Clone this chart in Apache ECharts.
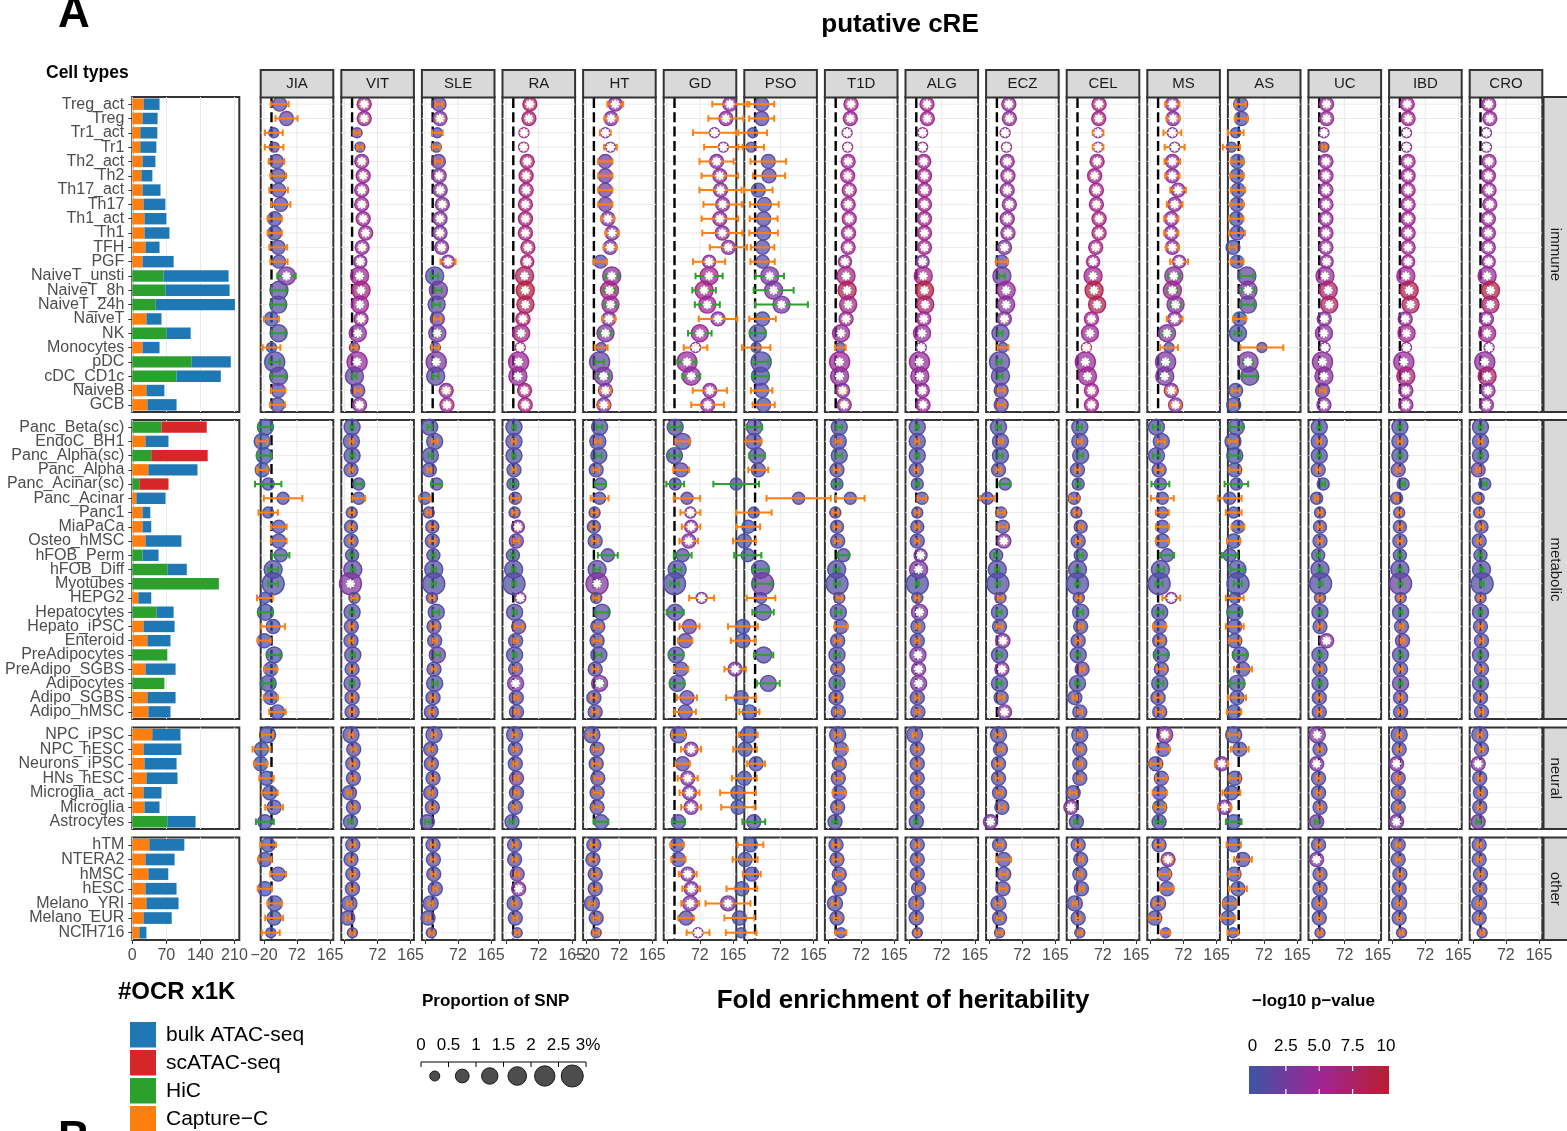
<!DOCTYPE html>
<html><head><meta charset="utf-8">
<script src="https://cdn.jsdelivr.net/npm/echarts@6/dist/echarts.min.js"></script>
<style>html,body{margin:0;padding:0;background:#fff}#c{width:1567px;height:1131px}</style>
</head><body><div id="c"></div>
<script>
// ---------------- DATA ----------------
const cellsImmune = ['Treg_act','Treg','Tr1_act','Tr1','Th2_act','Th2','Th17_act','Th17','Th1_act','Th1','TFH','PGF','NaiveT_unsti','NaiveT_8h','NaiveT_24h','NaiveT','NK','Monocytes','pDC','cDC_CD1c','NaiveB','GCB'];
const cellsMetabolic = ['Panc_Beta(sc)','EndoC_BH1','Panc_Alpha(sc)','Panc_Alpha','Panc_Acinar(sc)','Panc_Acinar','Panc1','MiaPaCa','Osteo_hMSC','hFOB_Perm','hFOB_Diff','Myotubes','HEPG2','Hepatocytes','Hepato_iPSC','Enteroid','PreAdipocytes','PreAdipo_SGBS','Adipocytes','Adipo_SGBS','Adipo_hMSC'];
const cellsNeural = ['NPC_iPSC','NPC_hESC','Neurons_iPSC','HNs_hESC','Microglia_act','Microglia','Astrocytes'];
const cellsOther = ['hTM','NTERA2','hMSC','hESC','Melano_YRI','Melano_EUR','NCIH716'];
const facetNames = ['immune','metabolic','neural','other'];
const diseases = ['JIA','VIT','SLE','RA','HT','GD','PSO','T1D','ALG','ECZ','CEL','MS','AS','UC','IBD','CRO'];

// #OCR x1K (stacked segments)
const ocrHiC = [0,0,0,0,0,0,0,0,0,0,0,0,64,68,47.5,0,70,0,122,91,0,0,
 60,0,39,0,14.5,0,0,0,0,21,72,178,0,50,0,0,72,0,66,0,0,
 0,0,0,0,0,0,72,
 0,0,0,0,0,0,0];
const ocrCaptureC = [23,21,16.5,16.5,21,18.6,21,23,25,25,27,21,0,0,0,29,0,21,0,0,29,31,
 0,27,0,33,0,8.3,21,21,27,0,0,0,12.4,0,23,31,0,27,0,31,33,
 41,23,25,29,23,25,0,
 35,27,33,27,29,23,14.5];
const ocrScATAC = [0,0,0,0,0,0,0,0,0,0,0,0,0,0,0,0,0,0,0,0,0,0,
 93,0,116,0,60,0,0,0,0,0,0,0,0,0,0,0,0,0,0,0,0,
 0,0,0,0,0,0,0,
 0,0,0,0,0,0,0];
const ocrBulk = [33,31,35,33,26.5,22.7,37,45,45,51.4,29,64,134,132,163.5,31,50,35,80.5,91,37,60,
 0,47.4,0,101,0,60,16,18,74,33,40,0,26.6,35,64,47.5,0,62,0,58,45.5,
 58,78,66,64,37,31,58,
 72,60,41,64,66,58,14.5];
// proportion of SNPs (%)
const snpProp = [0.78,0.78,0.25,0.25,0.78,0.78,0.78,0.78,0.78,0.78,0.78,0.62,1.61,1.61,1.38,0.78,1.38,0.25,2.14,1.61,0.78,0.78,
 1.16,1.16,1.16,0.78,0.48,0.48,0.36,0.62,0.78,0.62,1.61,2.74,0.36,1.16,0.78,0.78,1.16,0.78,1.16,0.78,0.78,
 1.16,0.78,0.78,0.78,0.78,0.78,0.78,
 0.78,0.78,0.78,0.78,0.96,0.78,0.25];

// Fold enrichment (fe), half error (se), -log10 p (p) per disease
const JIA_fe = [24,43,7.5,8.4,15,20,21,27,10,10,20,22,43,22,20,1,21,1,10,21,20,18,
 -16,-25,-19.5,-25,-8.3,33.5,-8.3,21.5,21.5,27,5.6,5.6,-17.6,-16,5.6,-19.5,8.4,-1,-8.3,-1,17.7,
 -10,-27,-29,-13,-3.6,8.4,-17.6,
 -8.3,-17.6,19.6,-17.6,10,8.4,-1];
const JIA_se = [25,31,25,26,22,22,26,27,20,20,25,24,26,20,20,21,19,25,15,20,20,21,
 19,15,20,15,37,54,27,22,22,24,14,14,22,20,33,18,18,18,15,20,23,
 15,25,18,20,22,25,25,
 22,18,22,20,20,25,25];
const JIA_p = [1.5,2,1,1,1.2,1.2,1.2,1.5,1,1,1.2,1.2,3,1.5,1.2,0.5,1.2,0.5,1,1.5,1.2,1.2,
 0.3,0.2,0.3,0.2,0.5,1,0.5,1,1,1,0.8,0.8,0.3,0.3,0.6,0.3,0.7,0.5,0.5,0.5,1,
 0.5,0.2,0.2,0.4,0.5,0.8,0.3,
 0.5,0.3,1,0.3,0.8,0.7,0.5];

const VIT_fe = [35,35,15,23,28,32,28,28,32,39,29,24,22,26,23,26,17,7.5,15,7.5,17,22,
 1,-1,1,-2,19.6,19.6,0,-2,-2,1,3,-3.6,7.5,1,-1,-2,3,1,1,1,1,
 -2,5.6,3,4.7,-6.4,4.7,-3.6,
 3,-2,3,2,-6.4,-11,2];
const VIT_se = [10,10,8,8,8,8,8,8,8,8,8,8,8,8,8,8,8,8,6,6,8,8,
 5,5,5,5,10,18,6,6,6,6,5,5,8,6,6,6,6,6,6,6,6,
 6,6,6,6,6,6,6,
 6,6,6,6,6,6,6];
const VIT_p = [4.5,4.5,1.5,1.5,4,4.5,4.5,4.5,4.5,4.5,4,3.5,5,6,5,4,4,1.5,4.5,2,2,3.5,
 1,1,1,1,1,1,0.8,0.8,1,1,1.5,3.5,1,1,1,1,1.2,1,1.2,1,1,
 1,1,1,1,1,1,1,
 1,1,1,1,1,1,1];

const SLE_fe = [18.7,21.5,14,11,17,19,22,28,21.5,21.5,26,44,6.6,17,12,14,14,8.4,11,9.4,39,41,
 -7.4,6.6,-5.5,-8.3,12,-21,-10,0,0,3,4,4,-1,11,4.7,6.6,14,4.7,6.6,2,-2.7,
 4.7,-4.6,-2.7,2,-4.6,0,-14,
 2,3,4,8.4,-4.6,-12,-2.7];
const SLE_se = [10,10,15,10,10,8,8,8,8,8,8,21,10,10,10,10,10,10,8,8,10,10,
 6,8,6,6,15,15,6,8,8,6,6,6,6,8,8,6,8,6,8,6,6,
 6,6,6,6,6,6,6,
 6,6,6,6,6,6,6];
const SLE_p = [2,3,1.5,1.2,2.2,3,3,3,3,3,3,3.5,1,2.5,1.5,2,2.8,1.2,3,1.5,4,4.5,
 1,1,1,1,1,1,1,1,1,1,1,1,1,1,1,1,2,1,1,1,1,
 1,1,1,1,1,1,1.5,
 1,1,1,1,1,1,1];

const RA_fe = [47.5,44.7,31,30,40,37,37,35,35,35,42,40,32.6,34.5,35,28,23,20.5,16,14,32.6,34.5,
 3,3,3,3,0,6.6,4.7,14,9.4,0,2,3,20.5,4.7,16,7.5,4.7,7.5,7.5,9.4,10,
 4.7,6.6,6.6,10,10,6.6,-2.7,
 4.7,4.7,12,16,4.7,6.6,12];
const RA_se = [8,8,8,8,8,8,8,8,8,8,8,8,8,8,8,8,8,8,8,8,8,8,
 5,5,5,5,8,12,6,8,8,6,5,5,8,6,12,6,5,6,6,6,6,
 6,6,6,6,6,6,6,
 6,6,6,6,6,6,6];
const RA_p = [7,6.5,5,4.5,6.5,6.5,6,6,6,6,6.5,6,7.5,9.5,8,6.5,6,4.5,5,4.5,6,6,
 1,1,1,1,1,1,1,3,2,1,1,1,3,1,1.5,1,1,1.2,3,1.2,1.2,
 1,1,1,2,1,1,1,
 1,1,2,3.5,1,1,1];

const HT_fe = [61,49,33,47.5,33,33,33,33,40,52,46.6,19.6,51,44.7,47.5,43,33.5,21.5,17,28,33.5,29,
 17,12,15,7.5,19.6,17,3,1,4.7,40,10,10,7.5,24,12,10,15,4.7,17,1,4.7,
 -4.6,10,7.5,12,10,10,21.5,
 1,-1.8,4.7,4.7,-4.6,7.5,7.5];
const HT_se = [22,18,15,18,20,20,20,20,18,18,18,18,18,16,16,18,16,18,12,15,15,15,
 8,8,8,8,15,25,8,8,8,28,8,8,8,18,10,10,8,8,10,8,8,
 10,10,10,10,10,10,20,
 8,8,8,8,8,8,8];
const HT_p = [4,3.5,3,3,2.5,2.5,2.5,2.5,3,3.5,3,1.5,4,6,5,3.5,3.5,1.5,2,3,3,3,
 1,1,1,1,1,1,1,1,1,1,1.5,3.5,1,1.2,1,1,1.2,1,3.2,1,1,
 1,1,1,1,1,1,1,
 1,1,1,1,1,1,1];

const GD_fe = [156,145,113,138,119,128,130,136,128,135,152,98,98,84,93,123,72,60,36,48,100,94,
 3,24,1,19.6,3,36,45.6,47.5,41,24,8.4,1,77,3,43,31,5.6,19.6,8.4,36,31,
 12,47.5,24,38,43,47.5,12,
 8.4,12,38,48,45,33.5,67];
const GD_se = [49,49,60,54,48,51,59,54,51,56,52,45,38,33,35,54,33,33,25,25,48,46,
 15,20,15,22,25,37,28,26,26,25,12,12,35,24,28,20,20,20,20,28,30,
 18,28,20,28,28,28,18,
 18,20,25,25,25,22,32];
const GD_p = [4,4,3,3,4,4,4,4,4,4,4,4,5.5,6,5,4,5,3,4.5,4,4,4,
 1,1.2,1,1.2,1,2,3,3.5,3.5,1.5,1,1,3,1,2,1.5,1,1.5,1,1.5,1.5,
 1,3,1.5,3,3,3,1,
 1,1,3,3,3,1.5,3];

const PSO_fe = [19.6,19.6,-5.5,-10,38,40,10,27,25,25,22,22,42,53,75,22,8.4,4,18,16,19.6,25,
 -1,-3,6.6,10,-52,123,-2.7,-18,-29,-19.5,16,22.4,17.7,23.3,-33,-33,25,-55,38,-38,-15,
 -18,-27,3.8,-29,-47,-47,-2.7,
 -12,-27,-8.3,-36,-75,-43,-38];
const PSO_se = [35,35,40,36,50,45,40,40,39,40,33,34,40,56,74,37,22,40,20,23,30,31,
 22,22,22,28,64,90,50,33,32,38,22,25,40,30,42,34,27,30,32,42,28,
 26,33,25,35,50,47,32,
 36,35,25,43,63,42,43];
const PSO_p = [1.5,1.5,0.8,0.8,1.5,1.5,1,1.2,1.2,1.2,1.2,1.2,3,3,3,1.2,0.8,0.5,1,1,1,1,
 1,1,1,1,0.5,1.5,0.5,0.5,0.5,0.5,1,2.5,1,1,0.5,0.5,1,3,1.2,0.5,0.5,
 0.5,0.5,0.8,0.5,0.3,0.3,0.8,
 0.5,0.5,0.8,0.4,3,0.4,0.4];

const T1D_fe = [44,42,33,34.5,36,34.5,39,36,39,37,36,27,30,33,36,30,16,14,12,12,20.5,25,
 11,8.4,11,4.7,4.7,42,0,4.7,6.6,23,3.8,4.7,11,8.4,16,6.6,4.7,6.6,4.7,2,8.4,
 6.6,16,11,8.4,11,6.6,-1,
 2,4.7,11,11,-1,4.7,16];
const T1D_se = [8,8,8,8,8,8,8,8,8,8,8,8,8,8,8,8,8,15,8,8,10,10,
 8,8,8,8,8,40,8,8,8,15,8,8,8,8,18,8,8,8,8,8,8,
 8,18,10,10,18,8,8,
 8,10,10,10,8,8,15];
const T1D_p = [5,5,4,4,5,5,5,5,5,5,5,4,6,8,6,4.5,4.5,1.5,5,4,3.5,3.5,
 1,1,1,1,1,1,1,1,1,1,1,1,1,1,1,1,1,1,1,1,1,
 1,1,1,1,1,1,1,
 1,1,1,1,1,1,1];

const ALG_fe = [31,32,18.7,18.7,22,24,24,24,24,24,24,18.7,20.5,24,26,22,17,15,10,11,18,20,
 3.8,3.8,3.8,1,3.8,17,3.8,3.8,3.8,13,7.5,3.8,3.8,10,5.6,3.8,5.6,7.5,7.5,3.8,5.6,
 -3.6,3.8,3.8,3.8,3.8,3.8,1,
 3.8,3.8,3.8,7.5,1,1,3.8];
const ALG_se = [6,6,6,6,6,6,6,6,6,6,6,6,6,6,6,6,6,6,6,6,6,6,
 5,5,5,5,5,12,5,5,5,8,6,5,5,6,5,5,5,5,5,5,5,
 5,5,5,5,5,5,5,
 5,5,5,5,5,5,5];
const ALG_p = [5.5,5.5,4,4,5.5,5.5,5.5,5.5,5.5,5.5,5.5,3,5.5,9,7,5,4.5,3,4.5,4.5,4.5,4.5,
 1,1,1,1,1,1,1,1,1,3,3,1,1,3,1,1,3,3,3,1,1.2,
 1,1,1,1,1,1,1,
 1,1,1,1,1,1,1];

const ECZ_fe = [34.5,36,24,28,30,32,30,36,30,32,22.4,15,15,27,27,22,11,18,8.4,11,13,13,
 5.6,11,11,5.6,24,-26,13,18,20.5,-1,2,3.8,11,8.4,8.4,18,8.4,15,8.4,13,22.4,
 5.6,11,5.6,5.6,8.4,15,-17,
 8.4,20.5,20.5,18,5.6,8.4,8.4];
const ECZ_se = [8,8,8,8,8,8,8,8,8,8,8,16,8,8,8,8,6,15,6,6,10,10,
 6,6,6,6,15,20,10,12,8,6,6,6,8,6,8,8,6,8,6,8,8,
 8,8,8,8,8,8,8,
 8,20,10,10,8,8,8];
const ECZ_p = [4,4,3,3,4,4,4,4,4,4,3,1.5,2.5,4.5,4,3,1.5,1.5,1.5,1.5,1.5,1.5,
 1,1,1,1,1,1,1,1,3,1,1,1,1,1,1,3,1,3,1,1,3,
 1,1,1,1,1,1,3,
 1,1,1,1,1,1,1];

const CEL_fe = [61.5,60.5,58.7,58.7,56,49,54,54,61.5,61.5,52,44.7,44.7,47.5,56,40,36,26,23,29,40,40,
 7.5,7.5,10,1,3,-8.3,-2,10,3,10,1,1,4.7,10,10,3,3,14,1,-6.4,7.5,
 7.5,7.5,7.5,7.5,-11,-17.6,-2,
 3,10,7.5,12,-6.4,3,7.5];
const CEL_se = [8,8,15,15,8,8,8,8,8,8,8,8,8,8,8,8,8,10,8,8,8,8,
 6,6,6,6,6,12,6,6,6,6,6,6,6,6,6,6,6,6,6,6,6,
 6,6,6,6,10,8,6,
 6,6,6,6,6,6,6];
const CEL_p = [6,6,4,4,5.5,5,5.5,5.5,6,6,5.5,5,5.5,9,8,5,5,3.5,4.5,5,5,5,
 1,1,1,1,1,1,1,1,1,1,1,1,1,1,1,1,1,2,1,1,1,
 1,1,1,1,1,3,1,
 1,1,1,1,1,1,1];

const MS_fe = [41,43,41,47.5,41,41,57,47.5,38,38,41,60,45,41,50,47.5,26,31.7,22,19.6,38,50,
 -3.6,10,-3.6,3.8,7.5,13,13,13,13,26,7.5,3.8,38,5.6,5.6,5.6,10,10,5.6,1,5.6,
 19.6,15,-5.5,10,5.6,5.6,3.8,
 3.8,29,19.6,26,1,-8.3,22.4];
const MS_se = [20,18,25,28,22,20,22,22,20,20,18,25,16,14,14,22,12,25,10,10,14,14,
 10,10,10,10,25,32,18,18,18,20,10,10,25,10,18,10,18,12,10,10,10,
 10,18,15,15,20,15,10,
 10,12,15,18,12,15,12];
const MS_p = [4,4,3,3,4,4,4,4,4,4,4,3.5,4,5,4,3.5,3.5,1.5,3,3,3.5,3.5,
 1,1,1,1,1,1,1,1,1,1,1,1,3,1,1,1,1,1,1,1,1,
 3,1,1,1,1,1,1,
 1,3,1,1,1,1,1];

const AS_fe = [6.6,8.4,-7.4,-19.5,-2.7,-3.6,-0.9,-3.6,-5.5,-3.6,-15,-3.6,24,27,27,3.8,-1,66,27,32,-7.4,-13,
 -5.5,-15,-10,-10,-5.5,-24,-13,-1,-13,-24,-3.6,-1,-10,-10,-10,-10,5.6,13,-3.6,-3.6,-12,
 -13,3.8,-47,-10,-19.5,-38,-13,
 -13,13,-12,-1,-24,-29,-15];
const AS_se = [15,18,22,24,18,18,20,18,20,22,10,18,18,18,18,18,10,60,14,20,10,10,
 18,13,15,15,33,33,22,18,18,22,18,12,25,18,25,15,18,25,20,25,20,
 15,25,18,15,25,18,22,
 20,25,15,25,18,20,15];
const AS_p = [1,1,0.5,0.3,0.7,0.7,0.8,0.7,0.6,0.7,0.4,0.7,2,3,2,0.9,0.8,1.5,3,2,0.6,0.4,
 0.8,0.5,0.6,0.6,0.8,0.4,0.5,0.8,0.5,0.4,0.8,0.8,0.6,0.6,0.6,0.6,1,1.2,0.8,0.8,0.5,
 0.5,0.8,3,0.5,0.4,3,0.5,
 0.5,1,0.5,0.7,0.4,0.4,0.5];

const UC_fe = [21.5,21.5,14,14,19.6,19.6,19.6,19.6,19.6,19.6,19.6,21.5,17,26,29,15,14,17,10,14,10,14,
 1,1,1,-2,12,-6.4,3,3,3,-2,3,4.7,3,3,3,21.5,3,3,3,1,1,
 -4.6,3,-6.4,-1,-1,3,-6.4,
 -1,-6.4,3,3,1,1,3];
const UC_se = [6,6,6,6,6,6,6,6,6,6,6,6,6,6,6,6,6,6,6,6,8,6,
 5,5,5,5,5,5,5,5,5,5,5,5,5,5,5,5,5,5,5,5,5,
 5,5,5,5,5,5,5,
 5,5,5,5,5,5,5];
const UC_p = [4.5,4.5,3,2.5,4.5,4.5,4.5,4.5,4.5,4.5,4.5,4,4.5,7,7.5,3.5,4,3,4,4,2.5,3.5,
 1,1,1,1,1,1,1,1,1,1,1,1,1,1,1,3.5,1,1,1,1,1,
 3,1,3,1,1,1,2.5,
 1,3,1,1,1,1,1];

const IBD_fe = [21.5,24,19.6,19.6,24,24,24,24,24,24,24,24,17.7,27,31,16,19.6,19.6,12,17.7,17.7,17.7,
 1,1,1,-3.6,10,-8.3,-1,1,1,1,1,3,3,3,5.6,8.4,3,3,3,3,3,
 -1,-1,-8.3,-3.6,-3.6,-3.6,-8.3,
 -3.6,-3.6,1,-1,-1,-1,5.6];
const IBD_se = [6,6,6,6,6,6,6,6,6,6,6,6,6,6,6,6,6,6,6,6,6,6,
 5,5,5,5,5,5,5,5,5,5,5,5,5,5,5,5,5,5,5,5,5,
 5,5,5,5,5,5,5,
 5,5,5,5,5,5,5];
const IBD_p = [5,5.5,3.5,3.5,5,5,5,5,5,5,5.5,5,5,8.5,7.5,4,5.5,3.5,4.5,6.5,4.5,4.5,
 1,1,1,1.5,1,1,1,1,1,1,1,2,1,1,1,2,1,1,2,1,1,
 1,1,3,2,1,1,3,
 1,1,1,1,1,1,1];

const CRO_fe = [24,27,17.7,17.7,25,23,25,27,23,23,23,24,19.6,29,29,17.7,19.6,25,13,19.6,22,17.7,
 1,1,1,-5.5,13,-5.5,-2.7,3.8,-2.7,1,3.8,5.6,1,1,1,3.8,1,3.8,1,1,3.8,
 -1,3.8,-5.5,-1,1,-1,-5.5,
 -2.7,-2.7,1,-1,-2.7,-2.7,5.6];
const CRO_se = [6,6,6,6,6,6,6,6,6,6,6,6,6,6,6,6,6,6,6,6,6,6,
 5,5,5,5,5,5,5,5,5,5,5,5,5,5,5,5,5,5,5,5,5,
 5,5,5,5,5,5,5,
 5,5,5,5,5,5,5];
const CRO_p = [4.5,4.5,3,3,4.5,4.5,4.5,4.5,4.5,4.5,4.5,4.5,4.5,9,7,4,5.5,3,4,7,4,4,
 1,1,1,2,1,1,1,1,1,1,1,1,1,1,1,1,1,1,1,1,1,
 1,1,3,1,1,1,2.5,
 1,1,1,1,1,1,1];

const xTicks = [-20, 72, 165];
const ocrTicks = [0, 70, 140, 210];
const snpLegendLabels = ['0','0.5','1','1.5','2','2.5','3%'];
const snpLegendBins = [0.25, 0.75, 1.25, 1.75, 2.25, 2.75];
const pLegendTicks = [0, 2.5, 5, 7.5, 10];
const assayNames = ['bulk ATAC-seq','scATAC-seq','HiC','Capture\u2212C'];

// ---------------- STYLE / LAYOUT ----------------
const FONT = 'Liberation Sans, Arial, Helvetica, sans-serif';
const COL = {bulk:'#1f77b4', sc:'#d62728', hic:'#2ca02c', cap:'#ff7f0e'};
const SIG = 2.8, REF = 1;
const feList = [JIA_fe,VIT_fe,SLE_fe,RA_fe,HT_fe,GD_fe,PSO_fe,T1D_fe,ALG_fe,ECZ_fe,CEL_fe,MS_fe,AS_fe,UC_fe,IBD_fe,CRO_fe];
const seList = [JIA_se,VIT_se,SLE_se,RA_se,HT_se,GD_se,PSO_se,T1D_se,ALG_se,ECZ_se,CEL_se,MS_se,AS_se,UC_se,IBD_se,CRO_se];
const pList  = [JIA_p,VIT_p,SLE_p,RA_p,HT_p,GD_p,PSO_p,T1D_p,ALG_p,ECZ_p,CEL_p,MS_p,AS_p,UC_p,IBD_p,CRO_p];
const facetCells = [cellsImmune, cellsMetabolic, cellsNeural, cellsOther];
const facetBox = [[97,315],[420,299],[727.5,101.5],[837.5,102.5]];
const PX0 = 260.7, PITCH = 80.6, PW = 72.6;
const XMIN = -29.25, XMAX = 174.25;

const pStops = [[0,[62,84,165]],[5,[158,38,150]],[10,[185,30,48]]];
function pRgb(p){
  p = Math.max(0, Math.min(10, p));
  const a = p <= 5 ? pStops[0] : pStops[1], b = p <= 5 ? pStops[1] : pStops[2];
  const t = (p - a[0]) / (b[0] - a[0]);
  return a[1].map((v,i)=>Math.round(v + (b[1][i]-v)*t)).join(',');
}
const rad = prop => 2.4 + 5.2*Math.sqrt(prop);

function makeBg(n){
  return function(params, api){
    const cs = params.coordSys, ch = [];
    for (let k=0;k<n;k++){
      const y = api.coord([0,k])[1];
      ch.push({type:'line', shape:{x1:cs.x, y1:y, x2:cs.x+cs.width, y2:y}, style:{stroke:'#ebebeb', lineWidth:1}});
    }
    xTicks.forEach(v=>{
      const x = api.coord([v,0])[0];
      ch.push({type:'line', shape:{x1:x, y1:cs.y, x2:x, y2:cs.y+cs.height}, style:{stroke:'#ebebeb', lineWidth:1}});
    });
    const x0 = api.coord([REF,0])[0];
    ch.push({type:'line', shape:{x1:x0, y1:cs.y+1, x2:x0, y2:cs.y+cs.height-1}, style:{stroke:'#000', lineWidth:2.4, lineDash:[10,4.3]}});
    return {type:'group', children:ch};
  };
}
function renderPoint(params, api){
  const fe=api.value(0), k=api.value(1), se=api.value(2), prop=api.value(3), p=api.value(4), hic=api.value(5);
  const c = api.coord([fe,k]), lo = api.coord([fe-se,k]), hi = api.coord([fe+se,k]);
  const r = rad(prop), rgb = pRgb(p), ec = hic ? COL.hic : COL.cap, y = c[1];
  const ch = [
    {type:'circle', z2:1, shape:{cx:c[0], cy:y, r}, style:{fill:'rgba('+rgb+',0.72)', stroke:'rgba('+rgb+',0.95)', lineWidth:1.4}},
    {type:'line', z2:2, shape:{x1:lo[0], y1:y, x2:hi[0], y2:y}, style:{stroke:ec, lineWidth:2}},
    {type:'line', z2:2, shape:{x1:lo[0], y1:y-3.3, x2:lo[0], y2:y+3.3}, style:{stroke:ec, lineWidth:2}},
    {type:'line', z2:2, shape:{x1:hi[0], y1:y-3.3, x2:hi[0], y2:y+3.3}, style:{stroke:ec, lineWidth:2}}
  ];
  if (p >= SIG){
    for (let a=0;a<4;a++){
      const ang = a*Math.PI/4, d = 3.6;
      ch.push({type:'line', z2:3, shape:{x1:c[0]-d*Math.cos(ang), y1:y-d*Math.sin(ang), x2:c[0]+d*Math.cos(ang), y2:y+d*Math.sin(ang)}, style:{stroke:'#fff', lineWidth:2.2, lineCap:'round'}});
    }
  }
  return {type:'group', children:ch};
}

const grid=[], xAxis=[], yAxis=[], series=[];
let offset = 0;
facetCells.forEach((cells, f) => {
  const [top, h] = facetBox[f];
  const n = cells.length, off = offset; offset += n;
  const sl = arr => arr.slice(off, off+n);
  const last = f === 3;
  // bar panel
  let gi = grid.length;
  grid.push({left:132.3, top, width:107, height:h, show:true, backgroundColor:'#fff', borderColor:'#333', borderWidth:2});
  xAxis.push({gridIndex:gi, type:'value', min:0, max:220, interval:70,
    axisLine:{show:false}, splitLine:{show:true, lineStyle:{color:'#ebebeb', width:1}},
    axisTick:{show:last, length:4, lineStyle:{color:'#333'}, customValues: ocrTicks},
    axisLabel:{show:last, customValues: ocrTicks, fontSize:16, color:'#4d4d4d', fontFamily:FONT, margin:8}});
  yAxis.push({gridIndex:gi, type:'category', data:cells, inverse:true,
    axisLine:{show:false}, splitLine:{show:false},
    axisTick:{show:true, alignWithLabel:true, interval:0, length:4, lineStyle:{color:'#333'}},
    axisLabel:{interval:0, fontSize:16, color:'#4d4d4d', fontFamily:FONT, margin:8}});
  [['hic',ocrHiC],['cap',ocrCaptureC],['sc',ocrScATAC],['bulk',ocrBulk]].forEach(([key, arr]) => {
    series.push({type:'bar', xAxisIndex:gi, yAxisIndex:gi, stack:'ocr'+f, data:sl(arr), barWidth:'80%', silent:true, itemStyle:{color:COL[key]}});
  });
  // dot panels
  diseases.forEach((d, j) => {
    gi = grid.length;
    grid.push({left:PX0 + PITCH*j, top, width:PW, height:h, show:true, backgroundColor:'#fff', borderColor:'#333', borderWidth:2});
    xAxis.push({gridIndex:gi, type:'value', min:XMIN, max:XMAX,
      axisLine:{show:false}, splitLine:{show:false},
      axisTick:{show:last, length:4, customValues:xTicks, lineStyle:{color:'#333'}},
      axisLabel:{show:last, customValues:(j===0||j===4)?xTicks:[72,165], fontSize:16, color:'#4d4d4d', fontFamily:FONT, margin:8,
        formatter: v => v < 0 ? '\u2212' + Math.abs(v) : String(v)}});
    yAxis.push({gridIndex:gi, type:'category', data:cells, inverse:true,
      axisLine:{show:false}, axisTick:{show:false}, axisLabel:{show:false}, splitLine:{show:false}});
    series.push({type:'custom', xAxisIndex:gi, yAxisIndex:gi, silent:true, z:2, renderItem:makeBg(n), data:[[0,0]]});
    const fe = sl(feList[j]), se = sl(seList[j]), pv = sl(pList[j]), sz = sl(snpProp), hc = sl(ocrHiC);
    const data = cells.map((c,k)=>[fe[k], k, se[k], sz[k], pv[k], hc[k] > 0 ? 1 : 0]);
    series.push({type:'custom', xAxisIndex:gi, yAxisIndex:gi, silent:true, z:3, clip:false, renderItem:renderPoint, data, encode:{x:0, y:1}});
  });
});

// ---------------- GRAPHICS (titles, strips, legends) ----------------
const g = [];
function T(x, y, text, o){
  o = o || {};
  const al = o.align || 'left';
  g.push({type:'text', x, y, rotation:o.rotation||0, silent:true, z:100,
    style:{text, fill:o.fill||'#000', fontFamily:FONT, fontSize:o.size||16, fontWeight:o.bold?'bold':'normal',
      align:al, textAlign:al, verticalAlign:'middle', textVerticalAlign:'middle'}});
}
T(58, 15, 'A', {size:44, bold:true});
T(58, 1140, 'B', {size:44, bold:true});
T(900, 25, 'putative cRE', {size:26, bold:true, align:'center'});
T(46, 73, 'Cell types', {size:17.5, bold:true});
diseases.forEach((d,j)=>{
  const x = PX0 + PITCH*j;
  g.push({type:'rect', silent:true, z:90, shape:{x, y:70, width:PW, height:27.5}, style:{fill:'#d9d9d9', stroke:'#333', lineWidth:2}});
  T(x + PW/2, 84, d, {size:15, align:'center', fill:'#1a1a1a'});
});
facetNames.forEach((nm,f)=>{
  const [top,h] = facetBox[f];
  g.push({type:'rect', silent:true, z:90, shape:{x:1543.5, y:top, width:30, height:h}, style:{fill:'#d9d9d9', stroke:'#333', lineWidth:2}});
  T(1555.5, top + h/2, nm, {size:15, align:'center', fill:'#1a1a1a', rotation:-Math.PI/2});
});
// OCR legend
T(118, 992, '#OCR x1K', {size:24, bold:true});
[COL.bulk, COL.sc, COL.hic, COL.cap].forEach((c,i)=>{
  g.push({type:'rect', silent:true, z:90, shape:{x:130, y:1022+28*i, width:26, height:25.5}, style:{fill:c}});
  T(166, 1035+28*i, assayNames[i], {size:21});
});
// SNP proportion legend
T(422, 1001, 'Proportion of SNP', {size:17, bold:true});
const snpX = [421, 448.5, 476, 503.5, 531, 558.5, 586];
snpLegendLabels.forEach((l,i)=> T(snpX[i] + (i===6?2:0), 1045, l, {size:17, align:'center'}));
g.push({type:'line', silent:true, shape:{x1:421, y1:1062, x2:586, y2:1062}, style:{stroke:'#000', lineWidth:1}});
snpX.forEach(x=> g.push({type:'line', silent:true, shape:{x1:x, y1:1062, x2:x, y2:1067}, style:{stroke:'#000', lineWidth:1}}));
snpLegendBins.forEach((b,i)=>{
  g.push({type:'circle', silent:true, shape:{cx:(snpX[i]+snpX[i+1])/2, cy:1076, r:rad(b)}, style:{fill:'#4d4d4d', stroke:'#1a1a1a', lineWidth:1}});
});
// Fold enrichment axis title
T(903, 1001, 'Fold enrichment of heritability', {size:26, bold:true, align:'center'});
// p-value colour legend
T(1252, 1001, '\u2212log10 p\u2212value', {size:17, bold:true});
g.push({type:'rect', silent:true, shape:{x:1249, y:1066, width:140, height:28},
  style:{fill:new echarts.graphic.LinearGradient(0,0,1,0,[{offset:0,color:'rgb(62,84,165)'},{offset:0.5,color:'rgb(158,38,150)'},{offset:1,color:'rgb(185,30,48)'}])}});
pLegendTicks.forEach(v=>{
  const x = 1252.5 + 13.35*v;
  T(x, 1046, v===0||v===10 ? String(v) : v.toFixed(1), {size:17, align:'center'});
  if (v>0 && v<10){
    g.push({type:'line', silent:true, shape:{x1:x, y1:1066, x2:x, y2:1071}, style:{stroke:'#fff', lineWidth:1.2}});
    g.push({type:'line', silent:true, shape:{x1:x, y1:1089, x2:x, y2:1094}, style:{stroke:'#fff', lineWidth:1.2}});
  }
});

const chart = echarts.init(document.getElementById('c'), null, {renderer:'canvas'});
chart.setOption({animation:false, backgroundColor:'#fff', grid, xAxis, yAxis, series, graphic:g});
</script></body></html>
